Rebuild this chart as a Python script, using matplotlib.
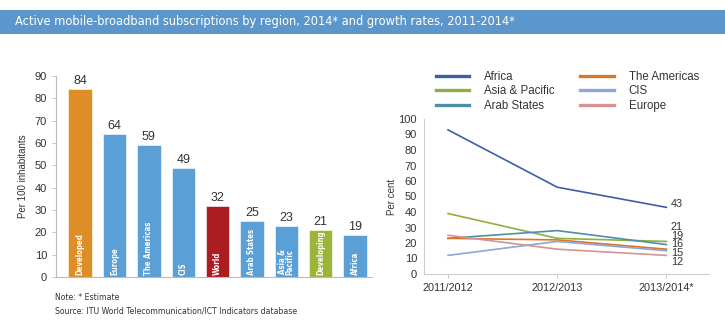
import matplotlib
matplotlib.use("Agg")
import os
import matplotlib.pyplot as plt
from matplotlib import font_manager
from matplotlib.font_manager import FontProperties
from matplotlib.patches import Rectangle

plt.rcParams['font.family'] = ['Liberation Sans', 'DejaVu Sans']


def find_font(cands):
    files = {os.path.basename(f.fname): f.fname for f in font_manager.fontManager.ttflist}
    for c in cands:
        if c in files:
            return files[c]
    return None


reg_file = find_font(["LiberationSansNarrow-Regular.ttf", "DejaVuSansCondensed.ttf"])
bold_file = find_font(["LiberationSansNarrow-Bold.ttf", "DejaVuSansCondensed-Bold.ttf"])


def narrow(size, bold=False):
    f = bold_file if bold else reg_file
    if f is not None:
        return FontProperties(fname=f, size=size)
    return FontProperties(family="Liberation Sans", size=size,
                          weight="bold" if bold else "normal")


# ---- data: bar chart ----
bar_cats = ["Developed", "Europe", "The Americas", "CIS", "World", "Arab States",
            "Asia &\nPacific", "Developing", "Africa"]
bar_vals = [84, 64, 59, 49, 32, 25, 23, 21, 19]
bar_colors = ["#DE8E26", "#5A9FD6", "#5A9FD6", "#5A9FD6", "#AC1D22", "#5A9FD6",
              "#5A9FD6", "#9BB43A", "#5A9FD6"]

# ---- data: growth lines ----
periods = ["2011/2012", "2012/2013", "2013/2014*"]
series_names = ["Africa", "Asia & Pacific", "Arab States", "The Americas", "CIS", "Europe"]
africa = [93, 56, 43]
asia_pacific = [39, 23, 21]
arab_states = [23, 28, 19]
americas = [23, 22, 16]
cis = [12, 21, 15]
europe = [25, 16, 12]
series_vals = [africa, asia_pacific, arab_states, americas, cis, europe]
series_colors = ["#3D5DA8", "#8DB040", "#4B90A6", "#D8772C", "#8EA5D9", "#D79393"]
end_labels = ["43", "21", "19", "16", "15", "12"]
end_label_y = [45, 30.5, 24.8, 19.1, 13.4, 7.7]

fig = plt.figure(figsize=(7.25, 3.29), dpi=100)

# title band
fig.patches.append(Rectangle((0, 1 - 34/329), 1, 24/329, transform=fig.transFigure,
                             facecolor="#5B97CC", edgecolor="none", zorder=0))
fig.text(15/725, 1 - 22/329, "Active mobile-broadband subscriptions by region, 2014* and growth rates, 2011-2014*",
         color="white", fontproperties=narrow(9.2), va="center", ha="left")

# ---- left bar chart ----
axL = fig.add_axes([56/725, 1 - 277/329, (372 - 56)/725, (277 - 76)/329])
x = list(range(len(bar_vals)))
axL.bar(x, bar_vals, width=0.68, color=bar_colors, edgecolor="white", linewidth=0.4, zorder=2)
axL.set_xlim(-0.7, 8.49)
axL.set_ylim(0, 90)
axL.set_yticks(range(0, 91, 10))
axL.tick_params(axis='y', labelsize=8, colors="#333333", length=3, width=0.6, color="#BBBBBB")
axL.set_xticks([])
for s in ["top", "right"]:
    axL.spines[s].set_visible(False)
for s in ["left", "bottom"]:
    axL.spines[s].set_color("#BBBBBB")
    axL.spines[s].set_linewidth(0.8)
axL.set_ylabel("Per 100 inhabitants", fontsize=7, color="#333333", labelpad=5)
for xi, v, c in zip(x, bar_vals, bar_cats):
    axL.text(xi, v + 0.9, str(v), ha="center", va="bottom", fontsize=9, color="#333333")
    axL.text(xi, 1.0, c, rotation=90, ha="center", va="bottom",
             color="white", fontproperties=narrow(5.6, bold=True), linespacing=0.85)

# ---- right line chart ----
axR = fig.add_axes([424/725, 1 - 274/329, (709 - 424)/725, (274 - 119)/329])
xs = list(range(len(periods)))
lines = []
for name, vals, col in zip(series_names, series_vals, series_colors):
    ln, = axR.plot(xs, vals, color=col, linewidth=1.2, label=name)
    lines.append(ln)
axR.set_xlim(-0.22, 2.39)
axR.set_ylim(0, 100)
axR.set_yticks(range(0, 101, 10))
axR.set_xticks(xs)
axR.set_xticklabels(periods)
axR.tick_params(axis='y', labelsize=8, colors="#333333", length=0, pad=5)
axR.tick_params(axis='x', labelsize=7.8, colors="#333333", length=3, width=0.6, color="#BBBBBB")
for s in ["top", "right"]:
    axR.spines[s].set_visible(False)
for s in ["left", "bottom"]:
    axR.spines[s].set_color("#CCCCCC")
    axR.spines[s].set_linewidth(0.8)
axR.set_ylabel("Per cent", fontsize=7, color="#333333", labelpad=1)
for lab, ly in zip(end_labels, end_label_y):
    axR.text(2.04, ly, lab, ha="left", va="center", fontsize=7.8, color="#333333")

fig.legend(handles=lines, loc="upper left", bbox_to_anchor=(436/725, 1 - 71/329), ncol=2,
           frameon=False, fontsize=8.3, handlelength=2.9, handletextpad=1.3,
           columnspacing=2.2, labelspacing=0.2, borderaxespad=0, borderpad=0,
           labelcolor="#333333")
for ln in fig.legends[0].get_lines():
    ln.set_linewidth(2.4)

# notes
fig.text(55/725, 1 - 297/329, "Note: * Estimate", color="#333333",
         fontproperties=narrow(6.2), va="center")
fig.text(55/725, 1 - 311/329, "Source: ITU World Telecommunication/ICT Indicators database",
         color="#333333", fontproperties=narrow(6.2), va="center")

fig.savefig("out.png", dpi=100)
